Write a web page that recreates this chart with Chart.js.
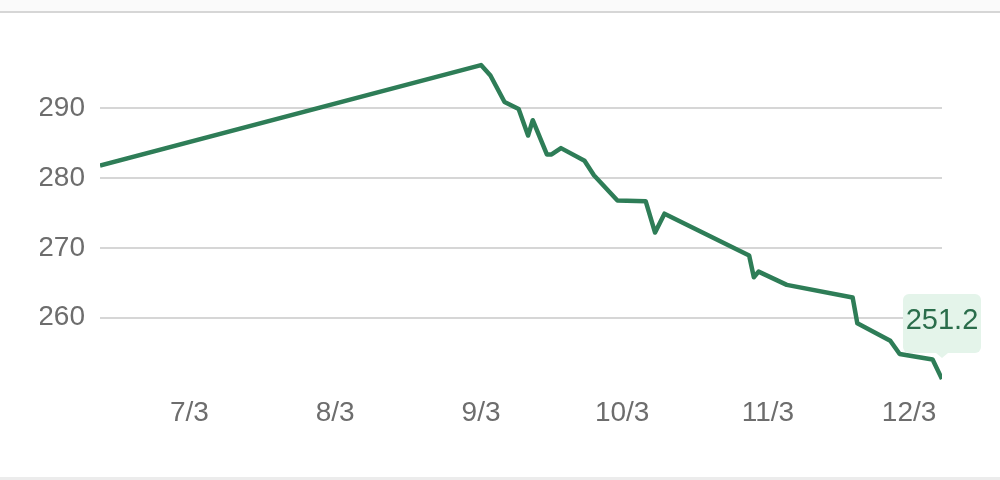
<!DOCTYPE html>
<html>
<head>
<meta charset="utf-8">
<script src="https://cdn.jsdelivr.net/npm/chart.js@4"></script>
<style>
  html, body { margin: 0; padding: 0; background: #fff; }
  #wrap { position: relative; width: 1000px; height: 480px; overflow: hidden; }
  #topband { position: absolute; left: 0; top: 0; width: 1000px; height: 11px; background: #fafafa; }
  #topline { position: absolute; left: 0; top: 11px; width: 1000px; height: 2px; background: #d6d6d6; }
  #bottomline { position: absolute; left: 0; top: 477px; width: 1000px; height: 3px; background: #ececec; }
  canvas { position: absolute; left: 0; top: 0; }
</style>
</head>
<body>
<div id="wrap">
  <div id="topband"></div>
  <div id="topline"></div>
  <div id="bottomline"></div>
  <canvas id="price-chart" width="1000" height="480"></canvas>
</div>
<script>
const dates = ['6/14', '9/3', '9/5', '9/8', '9/11', '9/13', '9/14', '9/17', '9/18', '9/20',
  '9/25', '9/27', '10/2', '10/8', '10/10', '10/12', '10/30', '10/31', '11/1', '11/7',
  '11/21', '11/22', '11/29', '12/1', '12/8', '12/10'];
const prices = [281.8, 296.2, 294.7, 290.9, 289.9, 286.1, 288.3, 283.4, 283.4, 284.3,
  282.5, 280.4, 276.8, 276.7, 272.2, 274.9, 268.9, 265.8, 266.6, 264.7,
  262.9, 259.2, 256.7, 254.8, 254.0, 251.2];
const tickDates = ['7/3', '8/3', '9/3', '10/3', '11/3', '12/3'];
const yTicks = [260, 270, 280, 290];

const labelFont = { family: '"Liberation Sans", Arial, sans-serif', size: 28 };
const labelColor = '#6d6d6d';
const green = '#2e7d57';

// days counted from 7/3
function dayNumber(md) {
  const [m, d] = md.split('/').map(Number);
  return Math.round((Date.UTC(2023, m - 1, d) - Date.UTC(2023, 6, 3)) / 86400000);
}

const lastValueTag = {
  id: 'lastValueTag',
  afterDatasetsDraw(chart) {
    const meta = chart.getDatasetMeta(0);
    const last = meta.data.length - 1;
    const pt = meta.data[last];
    const ctx = chart.ctx;
    const w = 78, h = 59, caret = 5, gap = 21;
    const tipY = pt.y - gap;
    const left = pt.x - w / 2, top = tipY - caret - h;
    ctx.save();
    ctx.fillStyle = '#e4f4ea';
    ctx.beginPath();
    ctx.roundRect(left, top, w, h, 6);
    ctx.fill();
    ctx.beginPath();
    ctx.moveTo(pt.x - 6, top + h);
    ctx.lineTo(pt.x, tipY);
    ctx.lineTo(pt.x + 6, top + h);
    ctx.closePath();
    ctx.fill();
    ctx.fillStyle = '#2a6d4b';
    ctx.font = '29px "Liberation Sans", Arial, sans-serif';
    ctx.textAlign = 'center';
    ctx.textBaseline = 'middle';
    ctx.fillText(prices[last].toFixed(1), pt.x, top + h / 2 - 3);
    ctx.restore();
  }
};

new Chart(document.getElementById('price-chart'), {
  type: 'line',
  data: {
    datasets: [{
      data: dates.map((d, i) => ({ x: dayNumber(d), y: prices[i] })),
      borderColor: green,
      borderWidth: 4.5,
      borderJoinStyle: 'round',
      pointRadius: 0,
      tension: 0,
      fill: false
    }]
  },
  options: {
    responsive: false,
    animation: false,
    devicePixelRatio: 1,
    layout: { padding: { top: 56, right: 58, bottom: 36, left: 40 } },
    plugins: { legend: { display: false }, tooltip: { enabled: false } },
    scales: {
      x: {
        type: 'linear',
        min: dayNumber(dates[0]),
        max: dayNumber(dates[dates.length - 1]),
        grid: { display: false, drawTicks: false },
        border: { display: false },
        afterBuildTicks: s => { s.ticks = tickDates.map(t => ({ value: dayNumber(t) })); },
        afterFit: s => { s.height = 60; },
        ticks: {
          autoSkip: false,
          maxRotation: 0,
          padding: 12,
          color: labelColor,
          font: labelFont,
          callback: (v, i) => tickDates[i]
        }
      },
      y: {
        min: 250.5,
        max: 297.5,
        grid: { color: '#d6d6d6', lineWidth: 2, drawTicks: false },
        border: { display: false },
        afterBuildTicks: s => { s.ticks = yTicks.map(v => ({ value: v })); },
        afterFit: s => { s.width = 60; },
        ticks: {
          padding: 15,
          color: labelColor,
          font: labelFont
        }
      }
    }
  },
  plugins: [lastValueTag]
});
</script>
</body>
</html>
